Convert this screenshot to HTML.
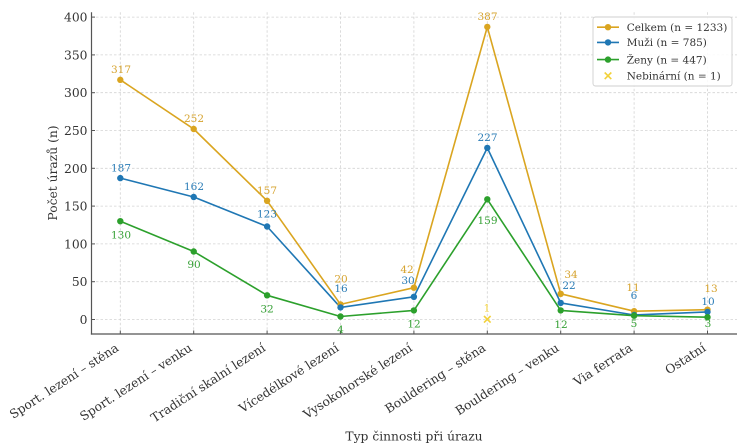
<!DOCTYPE html>
<html>
<head>
<meta charset="utf-8">
<style>
html,body{margin:0;padding:0;background:#fff;}
svg{display:block;}
text{font-family:"DejaVu Serif","Liberation Serif",serif;}
</style>
</head>
<body>
<svg width="745" height="447" viewBox="0 0 745 447" xmlns="http://www.w3.org/2000/svg">
<rect width="745" height="447" fill="#fff"/>
<!-- grid -->
<g stroke="#d3d3d3" stroke-width="0.8" stroke-dasharray="2.5,2" fill="none">
<line x1="91.5" y1="319.5" x2="737" y2="319.5"/>
<line x1="91.5" y1="281.7" x2="737" y2="281.7"/>
<line x1="91.5" y1="243.9" x2="737" y2="243.9"/>
<line x1="91.5" y1="206.1" x2="737" y2="206.1"/>
<line x1="91.5" y1="168.3" x2="737" y2="168.3"/>
<line x1="91.5" y1="130.5" x2="737" y2="130.5"/>
<line x1="91.5" y1="92.7" x2="737" y2="92.7"/>
<line x1="91.5" y1="54.9" x2="737" y2="54.9"/>
<line x1="91.5" y1="17.1" x2="737" y2="17.1"/>
<line x1="120.3" y1="12.3" x2="120.3" y2="334"/>
<line x1="193.7" y1="12.3" x2="193.7" y2="334"/>
<line x1="267.1" y1="12.3" x2="267.1" y2="334"/>
<line x1="340.5" y1="12.3" x2="340.5" y2="334"/>
<line x1="413.9" y1="12.3" x2="413.9" y2="334"/>
<line x1="487.3" y1="12.3" x2="487.3" y2="334"/>
<line x1="560.7" y1="12.3" x2="560.7" y2="334"/>
<line x1="634.1" y1="12.3" x2="634.1" y2="334"/>
<line x1="707.5" y1="12.3" x2="707.5" y2="334"/>
</g>
<!-- spines -->
<g stroke="#555" stroke-width="1.2" fill="none">
<line x1="91.5" y1="12.3" x2="91.5" y2="334.6"/>
<line x1="90.9" y1="334" x2="737" y2="334"/>
</g>
<!-- ticks (inward) -->
<g stroke="#555" stroke-width="1">
<line x1="91.5" y1="319.5" x2="95" y2="319.5"/>
<line x1="91.5" y1="281.7" x2="95" y2="281.7"/>
<line x1="91.5" y1="243.9" x2="95" y2="243.9"/>
<line x1="91.5" y1="206.1" x2="95" y2="206.1"/>
<line x1="91.5" y1="168.3" x2="95" y2="168.3"/>
<line x1="91.5" y1="130.5" x2="95" y2="130.5"/>
<line x1="91.5" y1="92.7" x2="95" y2="92.7"/>
<line x1="91.5" y1="54.9" x2="95" y2="54.9"/>
<line x1="91.5" y1="17.1" x2="95" y2="17.1"/>
<line x1="120.3" y1="334" x2="120.3" y2="330.5"/>
<line x1="193.7" y1="334" x2="193.7" y2="330.5"/>
<line x1="267.1" y1="334" x2="267.1" y2="330.5"/>
<line x1="340.5" y1="334" x2="340.5" y2="330.5"/>
<line x1="413.9" y1="334" x2="413.9" y2="330.5"/>
<line x1="487.3" y1="334" x2="487.3" y2="330.5"/>
<line x1="560.7" y1="334" x2="560.7" y2="330.5"/>
<line x1="634.1" y1="334" x2="634.1" y2="330.5"/>
<line x1="707.5" y1="334" x2="707.5" y2="330.5"/>
</g>
<!-- y tick labels -->
<g font-size="12.3" fill="#333" text-anchor="end">
<text x="87.5" y="324">0</text>
<text x="87.5" y="286.2">50</text>
<text x="87.5" y="248.4">100</text>
<text x="87.5" y="210.6">150</text>
<text x="87.5" y="172.8">200</text>
<text x="87.5" y="135">250</text>
<text x="87.5" y="97.2">300</text>
<text x="87.5" y="59.4">350</text>
<text x="87.5" y="21.6">400</text>
</g>
<!-- x tick labels -->
<g font-size="12.3" fill="#333" text-anchor="end">
<text transform="translate(119.5,350) rotate(-33)">Sport. lezení – stěna</text>
<text transform="translate(192.9,350) rotate(-33)">Sport. lezení – venku</text>
<text transform="translate(266.3,350) rotate(-33)">Tradiční skalní lezení</text>
<text transform="translate(339.7,350) rotate(-33)">Vícedélkové lezení</text>
<text transform="translate(413.1,350) rotate(-33)">Vysokohorské lezení</text>
<text transform="translate(486.5,350) rotate(-33)">Bouldering – stěna</text>
<text transform="translate(559.9,350) rotate(-33)">Bouldering – venku</text>
<text transform="translate(633.3,350) rotate(-33)">Via ferrata</text>
<text transform="translate(706.7,350) rotate(-33)">Ostatní</text>
</g>
<!-- axis labels -->
<text x="414" y="440.5" font-size="12.3" fill="#333" text-anchor="middle">Typ činnosti při úrazu</text>
<text transform="translate(57,173) rotate(-90)" font-size="12.3" fill="#333" text-anchor="middle">Počet úrazů (n)</text>
<!-- series -->
<g fill="none" stroke-width="1.6" stroke-linejoin="round">
<polyline stroke="#DAA520" points="120.3,79.85 193.7,129 267.1,200.8 340.5,304.4 413.9,287.7 487.3,26.9 560.7,293.8 634.1,311.2 707.5,309.7"/>
<polyline stroke="#1f77b4" points="120.3,178.1 193.7,197 267.1,226.5 340.5,307.4 413.9,296.8 487.3,147.9 560.7,302.9 634.1,315 707.5,311.9"/>
<polyline stroke="#2ca02c" points="120.3,221.2 193.7,251.5 267.1,295.3 340.5,316.5 413.9,310.4 487.3,199.3 560.7,310.4 634.1,315.7 707.5,317.2"/>
</g>
<g fill="#DAA520">
<circle cx="120.3" cy="79.85" r="3.2"/><circle cx="193.7" cy="129" r="3.2"/><circle cx="267.1" cy="200.8" r="3.2"/><circle cx="340.5" cy="304.4" r="3.2"/><circle cx="413.9" cy="287.7" r="3.2"/><circle cx="487.3" cy="26.9" r="3.2"/><circle cx="560.7" cy="293.8" r="3.2"/><circle cx="634.1" cy="311.2" r="3.2"/><circle cx="707.5" cy="309.7" r="3.2"/>
</g>
<g fill="#1f77b4">
<circle cx="120.3" cy="178.1" r="3.2"/><circle cx="193.7" cy="197" r="3.2"/><circle cx="267.1" cy="226.5" r="3.2"/><circle cx="340.5" cy="307.4" r="3.2"/><circle cx="413.9" cy="296.8" r="3.2"/><circle cx="487.3" cy="147.9" r="3.2"/><circle cx="560.7" cy="302.9" r="3.2"/><circle cx="634.1" cy="315" r="3.2"/><circle cx="707.5" cy="311.9" r="3.2"/>
</g>
<g fill="#2ca02c">
<circle cx="120.3" cy="221.2" r="3.2"/><circle cx="193.7" cy="251.5" r="3.2"/><circle cx="267.1" cy="295.3" r="3.2"/><circle cx="340.5" cy="316.5" r="3.2"/><circle cx="413.9" cy="310.4" r="3.2"/><circle cx="487.3" cy="199.3" r="3.2"/><circle cx="560.7" cy="310.4" r="3.2"/><circle cx="634.1" cy="315.7" r="3.2"/><circle cx="707.5" cy="317.2" r="3.2"/>
</g>
<!-- nebinarni marker -->
<g stroke="#f2d13a" stroke-width="1.6">
<line x1="484" y1="316" x2="490.6" y2="322.6"/>
<line x1="484" y1="322.6" x2="490.6" y2="316"/>
</g>
<!-- data labels -->
<g font-size="10.5" text-anchor="middle" fill="#d6a32e">
<text x="121" y="72.8">317</text>
<text x="194" y="121.8">252</text>
<text x="267" y="193.8">157</text>
<text x="341" y="282.3">20</text>
<text x="407" y="272.8">42</text>
<text x="487.5" y="19.8">387</text>
<text x="571" y="277.8">34</text>
<text x="633" y="290.8">11</text>
<text x="711" y="291.8">13</text>
</g>
<g font-size="10.5" text-anchor="middle" fill="#2a7cb6">
<text x="121" y="171.3">187</text>
<text x="194" y="189.8">162</text>
<text x="267" y="217.3">123</text>
<text x="341" y="291.8">16</text>
<text x="408" y="283.8">30</text>
<text x="487.5" y="140.8">227</text>
<text x="569" y="288.8">22</text>
<text x="634" y="298.8">6</text>
<text x="708" y="304.8">10</text>
</g>
<g font-size="10.5" text-anchor="middle" fill="#35a035">
<text x="121" y="238.3">130</text>
<text x="194" y="267.8">90</text>
<text x="267" y="312.3">32</text>
<text x="340.5" y="332.8">4</text>
<text x="414" y="327.3">12</text>
<text x="487.5" y="223.8">159</text>
<text x="561" y="327.8">12</text>
<text x="634" y="326.8">5</text>
<text x="708" y="326.8">3</text>
</g>
<text x="487" y="311.3" font-size="10.5" text-anchor="middle" fill="#f2d13a">1</text>
<!-- legend -->
<rect x="593" y="17" width="139" height="69" rx="2.5" fill="#fff" fill-opacity="0.85" stroke="#cfcfcf" stroke-width="0.9"/>
<g stroke-width="1.6">
<line x1="597" y1="27.2" x2="619" y2="27.2" stroke="#DAA520"/>
<line x1="597" y1="42.4" x2="619" y2="42.4" stroke="#1f77b4"/>
<line x1="597" y1="59.6" x2="619" y2="59.6" stroke="#2ca02c"/>
</g>
<circle cx="608" cy="27.2" r="3.2" fill="#DAA520"/>
<circle cx="608" cy="42.4" r="3.2" fill="#1f77b4"/>
<circle cx="608" cy="59.6" r="3.2" fill="#2ca02c"/>
<g stroke="#f2d13a" stroke-width="1.6">
<line x1="604.7" y1="72.5" x2="611.3" y2="79.1"/>
<line x1="604.7" y1="79.1" x2="611.3" y2="72.5"/>
</g>
<g font-size="10.5" fill="#333">
<text x="626.7" y="30.8">Celkem (n = 1233)</text>
<text x="626.7" y="46">Muži (n = 785)</text>
<text x="626.7" y="63.4">Ženy (n = 447)</text>
<text x="626.7" y="79.6">Nebinární (n = 1)</text>
</g>
</svg>
</body>
</html>
